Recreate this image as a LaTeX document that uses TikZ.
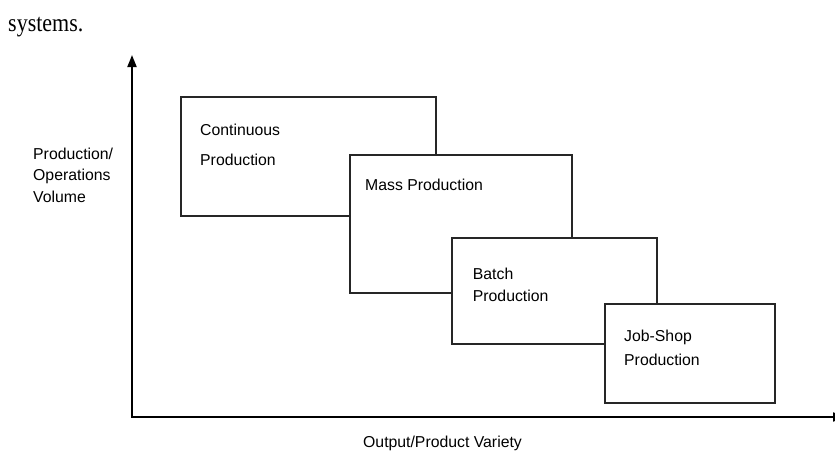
\documentclass[tikz,border=0pt]{standalone}
\usepackage{fontspec}
\setmainfont{Liberation Sans}
\newfontfamily\capfont{Liberation Serif}
\usetikzlibrary{arrows.meta,positioning}

\tikzset{
  stage/.style={draw=black!85, line width=1.5pt, fill=white, inner sep=0pt, anchor=north west},
  stagetext/.style={anchor=base west, inner sep=0pt, align=left, font=\fontsize{15.8}{22}\selectfont},
  axislabel/.style={inner sep=0pt, align=left, font=\fontsize{15.8}{21.5}\selectfont},
  axis/.style={line width=1.8pt, {Triangle[length=12pt,width=9pt]}-{Triangle[length=12pt,width=9pt]}},
}

\begin{document}
\begin{tikzpicture}[x=1pt, y=-1pt]
  \useasboundingbox (0,0) rectangle (835,451);

  % caption fragment
  \node[anchor=base west, inner sep=0pt, font=\capfont\fontsize{22}{24}\selectfont] (cap) at (8,31.7) {\scalebox{1}[1.15]{systems.}};

  % axes
  \coordinate (origin) at (132,417);
  \coordinate (ytop) at (132,55);
  \coordinate (xend) at (845,417);
  \draw[axis] (ytop) -- (origin) -- (xend);

  \node[axislabel, anchor=base west] (ylabel) at (33,202) {Production/\\Operations\\Volume};
  \node[axislabel, anchor=base] (xlabel) at (442.5,447) {Output/Product Variety};

  % production types
  \node[stage, minimum width=255pt, minimum height=119pt] (cont) at (180,96) {};
  \node[stagetext] (conttext) at (200,165) {Continuous\\[8pt]Production};

  \node[stage, minimum width=222pt, minimum height=138pt] (mass) at (349,154) {};
  \node[stagetext] (masstext) at (365,190) {Mass Production};

  \node[stage, minimum width=205pt, minimum height=106pt] (batch) at (451,237) {};
  \node[stagetext] (batchtext) at (472.7,301.7) {Batch\\[0pt]Production};

  \node[stage, minimum width=170pt, minimum height=99pt] (job) at (604,303) {};
  \node[stagetext] (jobtext) at (624,365.7) {Job-Shop\\[2pt]Production};
\end{tikzpicture}
\end{document}
